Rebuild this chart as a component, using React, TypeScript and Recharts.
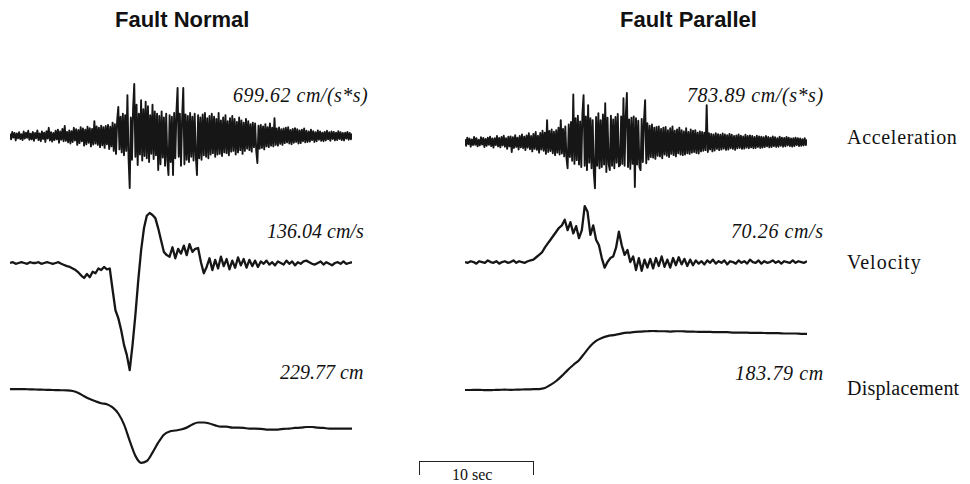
import { LineChart, Line, XAxis, YAxis } from 'recharts';

// acceleration, cm/s^2, one sample every 0.1 s (0..30 s)
const accNormal = [
  30, -45, 55, -20, 40, -60, 35, -30, 50, -40,
  25, -55, 60, -35, 45, -25, 70, -50, 30, -45,
  55, -65, 40, -30, 75, -55, 35, -70, 60, -40,
  45, -80, 65, -35, 110, -60, 50, -75, 40, -55,
  70, -45, 85, -90, 60, -50, 95, -70, 135, -65,
  55, -85, 75, -100, 65, -80, 110, -60, 90, -120,
  80, -95, 120, -70, 100, -130, 85, -110, 125, -90,
  105, -140, 95, -115, 200, -100, 130, -120, 110, -150,
  140, -125, 120, -160, 135, -110, 150, -175, 125, -140,
  180, -200, 160, -240, 210, 390, -180, 260, -220, 300,
  -260, 280, -200, 550, -300, -699, 250, -320, 380, 699.62,
  -280, 420, -390, 300, -250, 480, -330, 360, -270, 460,
  -300, 400, -350, 280, -240, 420, -310, 330, -260, 300,
  -457, 270, -380, 330, -290, 250, -400, 300, -320, -525,
  280, -350, 260, -525, 310, -300, 330, 645, -280, 300,
  -400, 250, 645, -380, 290, -320, 270, -350, 310, -280,
  260, -330, 300, -270, -525, 280, -300, 250, -320, 290,
  -260, 310, -280, 240, -300, 270, -250, 300, -230, 260,
  -280, 230, -250, 310, -240, 210, -270, 250, -220, 280,
  -230, 200, -260, 240, -210, 270, -200, 230, -250, 190,
  -220, 250, -190, 210, -240, 180, -200, 230, -170, 200,
  -190, 160, -210, 180, -150, 170, -200, -363, 140, -170,
  150, -160, 130, -180, 160, -140, 120, -150, 170, -130,
  110, -140, 240, -120, 100, -130, 115, -105, 90, -120,
  100, -95, 110, -85, 120, -100, 80, -110, 95, -90,
  105, -80, 90, -100, 75, -95, 85, -70, 100, -85,
  70, -80, 60, -75, 85, -55, 65, -80, 50, -70,
  75, -50, 60, -65, 45, -70, 55, -60, 70, -45,
  50, -65, 60, -40, 55, -60, 45, -55, 65, -40,
  50, -55, 40, -60, 45, -35, 55, -50, 40, -45,
  35,
];

const accParallel = [
  45, -60, 70, -35, 55, -75, 40, -50, 80, -45,
  60, -70, 35, -55, 75, -40, 65, -80, 50, -60,
  70, -45, 85, -65, 55, -90, 60, -50, 95, -70,
  65, -85, 80, -55, 100, -75, 60, -110, 85, -70,
  90, -160, 75, -95, 110, -80, 70, -120, 95, -85,
  120, -100, 85, -130, 105, -90, 140, -115, 95, -150,
  130, -110, 160, -125, 100, -170, 145, -120, 180, -140,
  150, -190, 350, -160, 175, -145, 200, -180, 165, -210,
  190, -170, 230, -200, 350, -185, 210, -230, 250, -260,
  -420, 280, -240, 320, -300, 760, -350, 380, -290, 420,
  -360, 330, -400, 450, 750, -380, 410, -450, 590, -330,
  380, -420, 350, -500, -740, 400, -380, 460, -420, 350,
  -400, 440, -360, 620, -480, 390, -350, -450, 420, -380,
  360, -420, 400, -330, 450, -390, -370, 410, -350, 700,
  -380, 420, 783.89, -400, 360, -430, 390, -350, 410, -720,
  380, -360, 340, -400, -450, 370, -320, 350, 670, -340,
  300, -280, 260, -240, 280, -250, 230, -270, 240, -220,
  250, -230, 210, -260, 230, -200, 240, -220, 190, -240,
  220, -190, 250, -210, 180, -230, 200, -180, 230, -200,
  190, -210, 170, -200, 220, -180, 160, -190, 200, -170,
  180, -160, 190, -175, 150, -185, 170, -150, 160, -140,
  150, -130, 590, -160, 140, -120, 130, -150, 120, -135,
  140, -110, 125, -130, 115, -120, 135, -105, 120, -125,
  110, -120, 130, -100, 115, -110, 95, -125, 105, -100,
  120, -95, 100, -110, 90, -105, 115, -90, 95, -100,
  105, -85, 95, -100, 80, -95, 100, -80, 90, -95,
  85, -90, 75, -80, 95, -70, 80, -85, 70, -80,
  90, -65, 75, -80, 60, -75, 85, -60, 70, -75,
  65, -70, 80, -55, 70, -65, 55, -75, 60, -65,
  70, -50, 60, -65, 55, -60, 45, -55, 60, -50,
  40,
];

// velocity, cm/s, one sample every 0.25 s
const velNormal = [
  0, 1, -1, 0, 1, 0, -1, 1, 0, 0,
  1, -1, 0, 1, 0, -1, 0, 1, -1, -2.5,
  -4, -5, -7, -9, -12, -16, -19, -14, -18, -11,
  -13, -7, -9, -5, -8, -7, -34, -60, -70, -85,
  -104, -117, -136.04, -104, -66, -22, 16, 44, 60, 63.5,
  61, 57, 44, 29, 14, 10, 8, 20, 6, 18,
  12, 22, 10, 24, 14, 18, 19, 1, -13, -5,
  6, -9, 4, -7, 8, -4, 5, -8, 3, -6,
  7, -3, 5, -6, 4, -4, 3, -5, 2, -1,
  3, -2, 1, -3, 2, 0, -2, 3, -1, 2,
  -3, 1, -1, 2, 3, 1, -1, -2, 0, 2,
  -2, 1, -1, -3, 0, 1, -1, 2, -1, 0, 1,
];

const velParallel = [
  0, -1, 1, 0, -2, 1, 0, -1, 2, 0,
  -1, 1, -2, 0, 1, -1, 0, 2, -1, 1,
  0, -1, 1, 2, 3, 6, 9, 12, 18, 23,
  28, 33, 38, 43, 46, 53, 40, 50, 36, 45,
  30, 40, 70.26, 63, 34, 46, 28, 21, 5, -7,
  0, 5, 7, 18, 38, 21, 9, 15, 0, 7,
  -10, 5, -11, 3, -7, 4, -8, 5, -5, 7,
  -6, 3, -7, 5, -4, 6, -3, 4, -5, 3,
  -4, 2, -2, 1, -3, 2, -1, 3, -2, 1,
  -1, 2, -3, 1, 0, -2, 2, -1, 1, -2,
  3, 0, -1, 2, -2, 1, -1, 0, 2, -1,
  1, -2, 1, 0, -1, 2, -1, 1, 0, -1, 1,
];

// displacement, cm, one sample every 0.5 s
const dispNormal = [
  0, 0, 0, -0.5, -1, -1.5, -2, -2.5, -3, -3.5,
  -4, -6, -12, -22, -31, -38, -44, -47, -57, -76,
  -110, -161, -208, -229.77, -224, -198, -167, -142, -132, -129,
  -126, -120, -110, -104, -104, -107, -113, -117, -117, -120,
  -120, -121, -123, -123, -124, -126, -126, -126, -124, -123,
  -121, -120, -118, -118, -120, -121, -123, -123, -123, -123, -123,
];

const dispParallel = [
  0, 0, 0.5, 0, -0.5, 0, 0.5, 1, 0.5, 1,
  1.5, 2, 2.5, 3, 6, 16, 28, 44, 62, 78,
  93, 115, 137, 153, 162, 168, 171, 174, 178, 179,
  181, 182, 183, 183.79, 183, 183, 182, 183, 183, 182,
  182, 181, 181, 181, 180, 180, 180, 179, 179, 179,
  178, 178, 178, 177, 177, 177, 176, 176, 176, 175, 175,
];

const rows = (values: number[], dt: number) =>
  values.map((v, i) => ({ t: +(i * dt).toFixed(2), v }));

const serif = '"Liberation Serif", "DejaVu Serif", serif';
const sans = '"Liberation Sans", Arial, sans-serif';

function Trace({ values, dt, domain, left, top, height, width = 1.6, curve = 'linear' }: any) {
  return (
    <div style={{ position: 'absolute', left, top }}>
      <LineChart
        width={342}
        height={height}
        data={rows(values, dt)}
        margin={{ top: 0, right: 0, bottom: 0, left: 0 }}
      >
        <XAxis dataKey="t" type="number" domain={[0, 30]} hide />
        <YAxis type="number" domain={domain} hide allowDataOverflow />
        <Line
          dataKey="v"
          type={curve}
          stroke="#161616"
          strokeWidth={width}
          strokeLinejoin="round"
          dot={false}
          isAnimationActive={false}
        />
      </LineChart>
    </div>
  );
}

function Label({ x, y, children, size = 20, italic = false, font = serif, bold = false, spacing = 0 }: any) {
  return (
    <div
      style={{
        position: 'absolute',
        left: x,
        top: y,
        fontFamily: font,
        fontSize: size,
        fontStyle: italic ? 'italic' : 'normal',
        fontWeight: bold ? 700 : 400,
        letterSpacing: spacing,
        lineHeight: 1,
        whiteSpace: 'nowrap',
        color: '#111',
      }}
    >
      {children}
    </div>
  );
}

export default function App() {
  return (
    <div
      style={{
        position: 'absolute',
        left: 0,
        top: 0,
        width: 970,
        height: 484,
        background: '#fff',
        overflow: 'hidden',
      }}
    >
      <Label x={115} y={9} size={22} font={sans} bold>Fault Normal</Label>
      <Label x={620} y={9} size={22} font={sans} bold>Fault Parallel</Label>

      <Trace values={accNormal} dt={0.1} domain={[-807, 807]} left={10} top={76} height={120} width={1.9} />
      <Trace values={accParallel} dt={0.1} domain={[-960, 960]} left={465} top={82} height={120} width={1.9} />
      <Trace values={velNormal} dt={0.25} domain={[-148.6, 80]} left={10} top={200} height={180} width={2.3} />
      <Trace values={velParallel} dt={0.25} domain={[-35.1, 90.4]} left={465} top={190} height={100} width={2.3} />
      <Trace values={dispNormal} dt={0.5} domain={[-252, 28.35]} left={10} top={380} height={90} width={2.2} curve="monotone" />
      <Trace values={dispParallel} dt={0.5} domain={[-31.15, 218.05]} left={465} top={320} height={80} width={2.2} curve="monotone" />

      <Label x={233} y={85} italic spacing={0.5}>699.62 cm/(s*s)</Label>
      <Label x={687} y={85} italic spacing={0.6}>783.89 cm/(s*s)</Label>
      <Label x={267} y={221} italic>136.04 cm/s</Label>
      <Label x={731} y={221} italic spacing={0.6}>70.26 cm/s</Label>
      <Label x={280} y={362} italic>229.77 cm</Label>
      <Label x={735} y={363} italic spacing={0.6}>183.79 cm</Label>

      <Label x={847} y={127} spacing={0.7}>Acceleration</Label>
      <Label x={847} y={252} spacing={1}>Velocity</Label>
      <Label x={847} y={378} spacing={0.2}>Displacement</Label>

      <div
        style={{
          position: 'absolute',
          left: 419,
          top: 461,
          width: 113,
          height: 13,
          borderTop: '1.5px solid #222',
          borderLeft: '1.5px solid #222',
          borderRight: '1.5px solid #222',
        }}
      />
      <Label x={452} y={467} size={16}>10 sec</Label>
    </div>
  );
}
